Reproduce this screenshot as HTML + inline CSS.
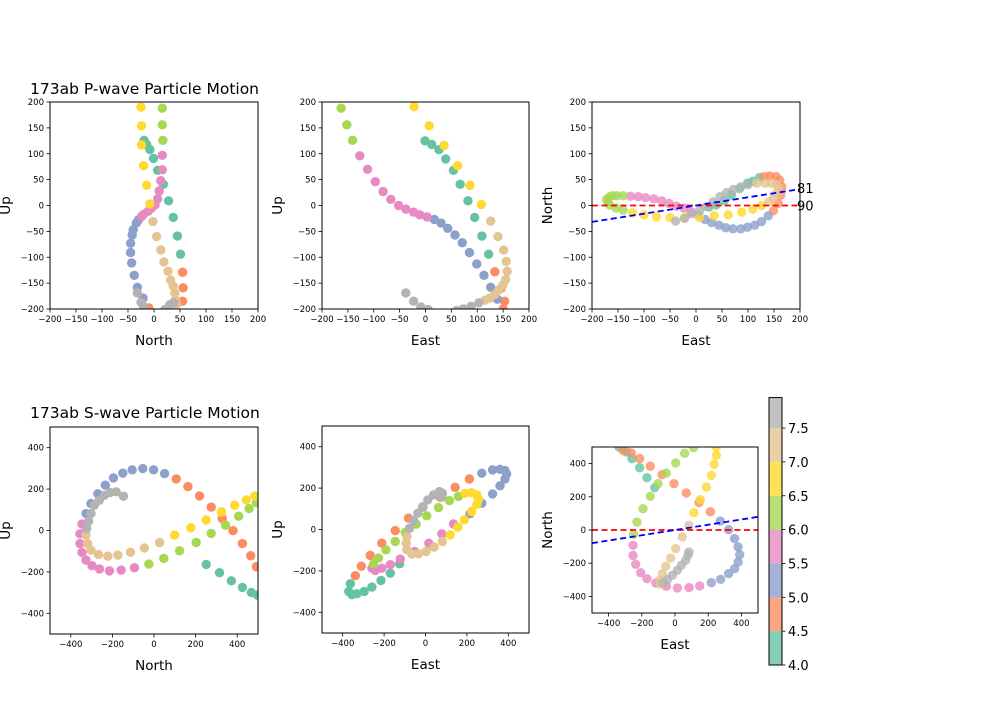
<!DOCTYPE html>
<html><head><meta charset="utf-8"><style>
body{margin:0;background:#fff;}
svg text{font-family:"DejaVu Sans","Liberation Sans",sans-serif;fill:#000;}
</style></head><body>
<svg id="fig" width="1000" height="700" xmlns="http://www.w3.org/2000/svg">
<rect width="1000" height="700" fill="#fff"/>
<text x="30" y="94" font-size="15.5">173ab P-wave Particle Motion</text>
<text x="30" y="418" font-size="15.5">173ab S-wave Particle Motion</text>
</svg>
<script>
const times=[4.0,4.5,5.0,5.5,6.0,6.5,7.0,7.5];
const colors=['#66c2a5','#fc8d62','#8da0cb','#e78ac3','#a6d854','#ffd92f','#e5c494','#b3b3b3'];
// P-wave North vs Up (groups by time bin)
const p1X=[[-19,-14,-8,-1,7,18,28,37,45,51],[55,56,55,-10],[-30,-34,-40,-42,-45,-45,-43,-38,-32,-21],[16,16,13,10,7,2,-5,-11,-20,-24],[16,16,17],[-25,-24,-24,-20,-14,-8],[-2,5,13,19,27,32,37,40,41,43],[-32,-25,-20,21,30,38]];
const p1Y=[[126,118,108,91,68,41,9,-23,-59,-94],[-129,-159,-185,-198],[-28,-34,-47,-57,-73,-91,-111,-135,-158,-179],[97,69,48,28,13,1,-5,-11,-17,-21],[188,156,126],[190,154,117,77,39,3],[-31,-60,-86,-109,-127,-144,-156,-169,-182,-192],[-169,-187,-195,-201,-192,-188]];
// P-wave East vs Up
const p2X=[[-1,12,26,39,54,67,82,95,109,122],[134,146,153,150],[17,30,43,57,71,85,99,113,126,139],[-127,-112,-97,-82,-67,-52,-38,-23,-11,3],[-163,-152,-141],[-22,7,36,62,86,108],[126,140,151,156,158,155,150,142,134,124,115],[-38,-23,-9,5,60,73,88,103]];
const p2Y=[[125,118,108,90,68,41,9,-23,-59,-94],[-128,-160,-185,-200],[-27,-34,-44,-57,-72,-91,-113,-135,-158,-181],[96,70,46,27,12,0,-7,-13,-18,-22],[188,156,126],[191,154,116,77,39,2],[-30,-60,-86,-108,-127,-143,-153,-163,-172,-179,-183],[-169,-185,-196,-201,-203,-200,-195,-188]];
// P-wave East vs North
const p3X=[[25,39,54,68,84,99,109,122],[131,142,154,161,165,163,158,149],[139,126,113,99,86,71,57,44,30,17,4],[-126,-111,-97,-81,-66,-52,-38,-23,-9],[-172,-166,-160,-152,-140,-140,-154,-166,-170],[-122,-100,-76,-50,-22,7,35,62,88,109,126],[140,149,155,158,155,145,133,117],[-39,-22,-9,7,20,33,46,59,72,86,100]];
const p3Y=[[-3,1,9,20,33,43,47,54],[56,57,56,49,36,20,4,-10],[-20,-31,-38,-42,-45,-45,-43,-38,-33,-27,-18],[18,17,15,13,9,4,-1,-5,-12],[12,17,19,19,19,-9,-5,1,7],[-14,-18,-22,-23,-23,-23,-20,-18,-13,-7,0],[7,14,23,33,41,43,43,43],[-30,-25,-16,-10,-2,7,17,25,31,36,40]];
// S-wave North vs Up
const p4X=[[251,315,372,425,468,497],[107,163,219,275,328,380,425,465,492],[-327,-303,-270,-234,-195,-150,-105,-54,-2,51],[-346,-356,-356,-346,-327,-298,-262,-214,-158,-94],[-25,47,123,203,275,344,407,457,492],[99,177,251,324,388,444,485],[-327,-319,-303,-267,-222,-174,-113,-46,27],[-147,-182,-211,-239,-263,-287,-303,-314,-324]];
const p4Y=[[-164,-204,-243,-275,-299,-312],[249,212,167,113,58,-1,-63,-122,-175],[82,130,177,219,254,277,293,299,293,275],[31,-16,-63,-106,-143,-170,-186,-195,-191,-180],[-162,-135,-98,-58,-14,26,69,106,135],[-22,13,51,90,122,148,167],[-22,-63,-95,-116,-124,-119,-105,-84,-58],[166,187,184,170,146,122,82,45,10]];
// S-wave East vs Up
const p5X=[[-363,-371,-355,-331,-296,-259,-215,-170,-125],[-339,-310,-267,-211,-146,-82,-13,71,143,212],[272,324,360,384,392,384,360,324,272,215],[135,79,16,-53,-122,-170,-211,-243,-259],[-251,-227,-191,-146,-98,-45,6,63,116,159],[191,223,248,256,248,223,188,156,119],[82,42,3,-34,-66,-90,-93,-90],[-77,-58,-37,-13,11,39,67,82,79]];
const p5Y=[[-262,-299,-315,-310,-299,-278,-246,-211,-166],[-223,-177,-125,-66,-5,55,108,156,204,244],[272,288,291,285,268,244,211,172,127,76],[27,-21,-66,-106,-143,-170,-187,-198,-187],[-166,-138,-98,-58,-14,26,66,106,140,160],[175,178,167,146,122,87,47,11,-26],[-58,-85,-106,-117,-119,-98,-66,-34],[6,44,79,111,143,167,183,175,156]];
// S-wave East vs North
const p6X=[[-337,-293,-259,-213,-169,-122],[-313,-263,-213,-149,-78,-6,68,145,213],[273,323,359,380,390,380,359,323,275,219],[149,85,14,-52,-116,-169,-207,-237,-253,-253],[-249,-229,-193,-149,-102,-52,4,58,112],[249,249,235,219,189,153,114],[84,44,4,-26,-56,-76,-92,-86],[-72,-46,-16,14,38,64,78,84]];
const p6Y=[[500,470,430,375,315,255],[480,464,430,384,333,279,223,165,110],[54,2,-52,-102,-149,-193,-233,-263,-297,-317],[-337,-347,-349,-339,-319,-293,-257,-207,-153,-92],[-26,48,128,203,279,343,404,462,496],[500,450,396,329,259,183,104],[28,-42,-112,-169,-219,-263,-303,-327],[-319,-299,-273,-243,-213,-183,-153,-133]];
const pTicks=[-200,-150,-100,-50,0,50,100,150,200];
const sTicks=[-400,-200,0,200,400];
const cbTicks=[4.0,4.5,5.0,5.5,6.0,6.5,7.0,7.5];
const pAngle=81, sAngle=81;

const NS='http://www.w3.org/2000/svg';
const svg=document.getElementById('fig');
function mk(tag,attrs,parent){const e=document.createElementNS(NS,tag);for(const k in attrs)e.setAttribute(k,attrs[k]);(parent||svg).appendChild(e);return e;}

function panel(name,box,lim,ticks,xs,ys,xl,yl,opt){
  const [x0,x1,y0,y1]=box;
  const sx=v=>x0+(v+lim)/(2*lim)*(x1-x0);
  const sy=v=>y1-(v+lim)/(2*lim)*(y1-y0);
  const g=mk('g',{});
  
  
  const clipId=name+'-clip';
  const cp=mk('clipPath',{id:clipId},g);mk('rect',{x:x0,y:y0,width:x1-x0,height:y1-y0},cp);
  const pts=mk('g',{'clip-path':'url(#'+clipId+')'},g);
  xs.forEach((grp,gi)=>{grp.forEach((xv,i)=>{
    const c=mk('circle',{cx:sx(xv),cy:sy(ys[gi][i]),r:4.7,fill:colors[gi],'fill-opacity':opt.alpha||1},pts);
    
    
  });});
  if(opt.lines){
    const r=mk('line',{x1:x0,x2:x1,y1:sy(0),y2:sy(0),stroke:'#ff0000','stroke-width':1.8,'stroke-dasharray':'6,3.5'},pts);
    
    
    const slope=Math.tan((90-opt.angle)*Math.PI/180);
    const b=mk('line',{x1:x0,x2:x1,y1:sy(-lim*slope),y2:sy(lim*slope),stroke:'#0000ff','stroke-width':1.8,'stroke-dasharray':'6,3.5'},pts);
    
    
    if(opt.labels){
      const t1=mk('text',{x:x1-3,y:sy(lim*slope)+4,'font-size':13},g);t1.textContent=String(opt.angle);
      
      
      const t2=mk('text',{x:x1-3,y:sy(0)+5,'font-size':13},g);t2.textContent='90';
      
      
    }
  }
  mk('rect',{x:x0,y:y0,width:x1-x0,height:y1-y0,fill:'none',stroke:'#000','stroke-width':1},g);
  ticks.forEach(t=>{
    mk('line',{x1:sx(t),x2:sx(t),y1:y1,y2:y1+3.5,stroke:'#000','stroke-width':0.8},g);
    const tx=mk('text',{x:sx(t),y:y1+13,'font-size':8.5,'text-anchor':'middle'},g);tx.textContent=String(t).replace('-','\u2212');
    
    
    mk('line',{x1:x0,x2:x0-3.5,y1:sy(t),y2:sy(t),stroke:'#000','stroke-width':0.8},g);
    const ty=mk('text',{x:x0-6,y:sy(t)+3,'font-size':8.5,'text-anchor':'end'},g);ty.textContent=String(t).replace('-','\u2212');
    
    
  });
  const xt=mk('text',{x:(x0+x1)/2,y:y1+36,'font-size':13.5,'text-anchor':'middle'},g);xt.textContent=xl;
  
  
  const yx=opt.ylx, yy=(y0+y1)/2;
  const yt=mk('text',{x:yx,y:yy,'font-size':13.5,'text-anchor':'middle',transform:'rotate(-90 '+yx+' '+yy+')'},g);yt.textContent=yl;
  
  
}
panel('p-north-up',[50,258,102,309],200,pTicks,p1X,p1Y,'North','Up',{ylx:10});
panel('p-east-up',[322,529,102,309],200,pTicks,p2X,p2Y,'East','Up',{ylx:282});
panel('p-east-north',[592,800,102,309],200,pTicks,p3X,p3Y,'East','North',{ylx:552,alpha:0.8,lines:true,angle:pAngle,labels:true});
panel('s-north-up',[50,258,427,634],500,sTicks,p4X,p4Y,'North','Up',{ylx:10});
panel('s-east-up',[322,529,426,633],500,sTicks,p5X,p5Y,'East','Up',{ylx:282});
panel('s-east-north',[592,758,447,613],500,sTicks,p6X,p6Y,'East','North',{ylx:552,alpha:0.8,lines:true,angle:sAngle});

// colorbar
const cb=mk('g',{});


const cbx=769,cbw=13,cbBot=665,per=67.7,cbMax=7.95;
const cy=v=>cbBot-(v-4)*per;
times.forEach((t,i)=>{
  const top=Math.min(t+0.5,cbMax);
  const r=mk('rect',{x:cbx,y:cy(top),width:cbw,height:cy(t)-cy(top),fill:colors[i],'fill-opacity':0.8},cb);
  
  
});
mk('rect',{x:cbx,y:cy(cbMax),width:cbw,height:cbBot-cy(cbMax),fill:'none',stroke:'#000','stroke-width':1},cb);
cbTicks.forEach(t=>{
  mk('line',{x1:cbx+cbw,x2:cbx+cbw+3.5,y1:cy(t),y2:cy(t),stroke:'#000','stroke-width':0.8},cb);
  const tx=mk('text',{x:cbx+cbw+6,y:cy(t)+5,'font-size':13},cb);tx.textContent=t.toFixed(1);
  
  
});
</script>
</body></html>
